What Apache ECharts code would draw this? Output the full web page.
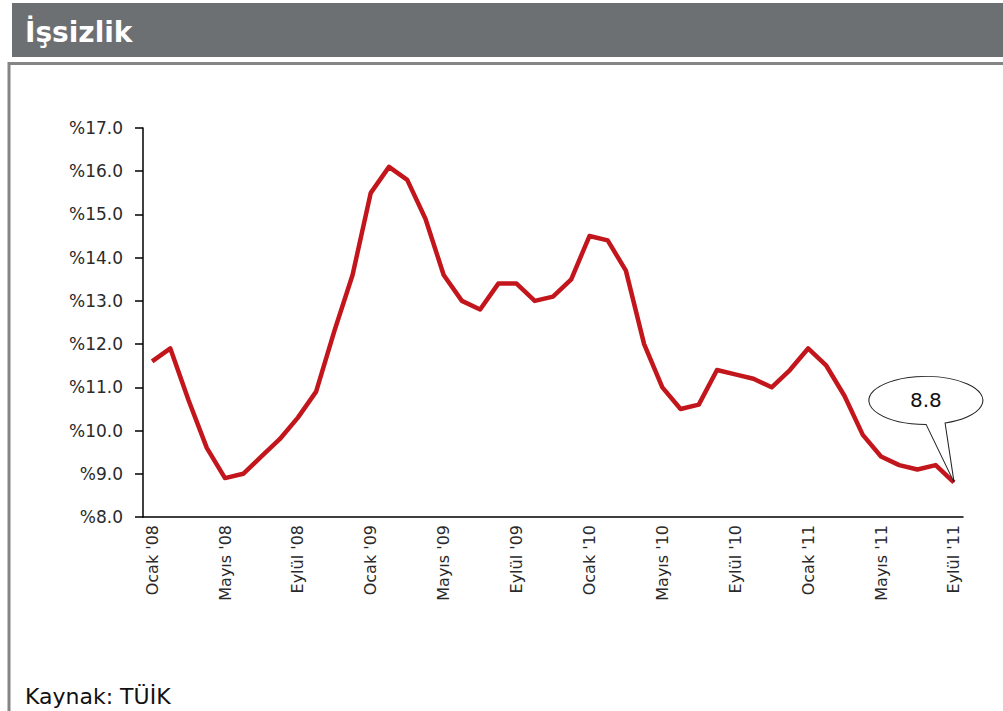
<!DOCTYPE html>
<html>
<head>
<meta charset="utf-8">
<script src="https://cdn.jsdelivr.net/npm/echarts@6/dist/echarts.min.js"></script>
<style>
  html, body { margin: 0; padding: 0; background: #fff; }
  #chart { width: 1003px; height: 711px; }
</style>
</head>
<body>
<div id="chart"></div>
<script>
// monthly categories, Ocak '08 .. Eylül '11
const months = [
  "Ocak '08", "Şubat '08", "Mart '08", "Nisan '08", "Mayıs '08", "Haziran '08",
  "Temmuz '08", "Ağustos '08", "Eylül '08", "Ekim '08", "Kasım '08", "Aralık '08",
  "Ocak '09", "Şubat '09", "Mart '09", "Nisan '09", "Mayıs '09", "Haziran '09",
  "Temmuz '09", "Ağustos '09", "Eylül '09", "Ekim '09", "Kasım '09", "Aralık '09",
  "Ocak '10", "Şubat '10", "Mart '10", "Nisan '10", "Mayıs '10", "Haziran '10",
  "Temmuz '10", "Ağustos '10", "Eylül '10", "Ekim '10", "Kasım '10", "Aralık '10",
  "Ocak '11", "Şubat '11", "Mart '11", "Nisan '11", "Mayıs '11", "Haziran '11",
  "Temmuz '11", "Ağustos '11", "Eylül '11"
];

// unemployment rate (%)
const unemployment = [
  11.6, 11.9, 10.7, 9.6, 8.9, 9.0, 9.4, 9.8, 10.3, 10.9, 12.3, 13.6,
  15.5, 16.1, 15.8, 14.9, 13.6, 13.0, 12.8, 13.4, 13.4, 13.0, 13.1, 13.5,
  14.5, 14.4, 13.7, 12.0, 11.0, 10.5, 10.6, 11.4, 11.3, 11.2, 11.0, 11.4,
  11.9, 11.5, 10.8, 9.9, 9.4, 9.2, 9.1, 9.2, 8.8
];

const yMin = 8;
const yMax = 17;
const yStep = 1;

const lastIdx = unemployment.length - 1;
const lastValue = unemployment[lastIdx];

const chart = echarts.init(document.getElementById('chart'), null, { renderer: 'svg' });

chart.setOption({
  animation: false,
  textStyle: { fontFamily: 'DejaVu Sans' },
  graphic: [
    // header bar
    { type: 'rect', z: -10, shape: { x: 12, y: 3, width: 991, height: 54 }, style: { fill: '#6d7073' } },
    // frame
    { type: 'rect', z: -10, shape: { x: 9, y: 63.5, width: 1000, height: 700 }, style: { fill: '#fff', stroke: '#858585', lineWidth: 3 } }
  ],
  title: [
    {
      text: 'İşsizlik', left: 20, top: 13,
      textStyle: { color: '#fff', fontSize: 28, fontWeight: 'bold', fontFamily: 'DejaVu Sans' }
    },
    {
      text: 'Kaynak: TÜİK', left: 20, top: 680,
      textStyle: { color: '#111', fontSize: 22, fontWeight: 'normal', fontFamily: 'DejaVu Sans' }
    }
  ],
  grid: { left: 143, right: 40, top: 128, bottom: 194, outerBoundsMode: 'none' },
  xAxis: {
    type: 'category',
    data: months,
    boundaryGap: true,
    axisLine: { lineStyle: { color: '#000', width: 1.5 } },
    axisTick: { interval: 0, length: 6, lineStyle: { color: '#000', width: 1.5 } },
    axisLabel: { interval: 3, rotate: 90, margin: 8, fontSize: 16, color: '#2a2a2a' }
  },
  yAxis: {
    type: 'value',
    min: yMin,
    max: yMax,
    interval: yStep,
    axisLine: { show: true, lineStyle: { color: '#000', width: 1.5 } },
    axisTick: { show: true, length: 8, lineStyle: { color: '#000', width: 1.5 } },
    splitLine: { show: false },
    axisLabel: { margin: 20, fontSize: 17, color: '#2a2a2a', formatter: v => '%' + v.toFixed(1) }
  },
  series: [
    {
      type: 'line',
      data: unemployment,
      symbol: 'none',
      lineStyle: { color: '#c3161c', width: 4.5, join: 'round' },
      markPoint: {
        // speech bubble pointing at the last value
        symbol: 'path://M57 48 L85 106 L76 46.6 A57 24 0 1 0 57 48 Z',
        symbolSize: [114, 106],
        symbolOffset: [-28, -53],
        itemStyle: { color: '#fff', borderColor: '#222', borderWidth: 1 },
        label: {
          show: true,
          offset: [0, -29],
          color: '#111',
          fontSize: 20,
          formatter: p => p.value.toFixed(1)
        },
        emphasis: { disabled: true },
        data: [{ coord: [months[lastIdx], lastValue], value: lastValue }]
      }
    }
  ]
});
</script>
</body>
</html>
